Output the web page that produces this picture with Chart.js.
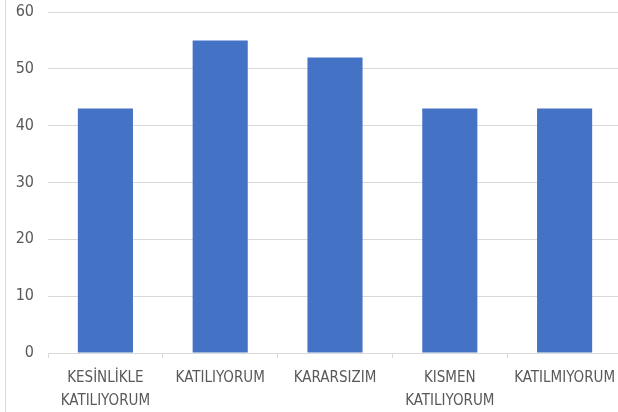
<!DOCTYPE html>
<html>
<head>
<meta charset="utf-8">
<script src="https://cdn.jsdelivr.net/npm/chart.js@4/dist/chart.umd.min.js"></script>
<style>
  html, body { margin: 0; padding: 0; background: #fff; overflow: hidden; }
  #frame { position: absolute; left: 5px; top: 0; width: 1px; height: 412px; background: #d9d9d9; }
  #wrap { position: absolute; left: 0; top: 0; width: 622px; height: 412px; }
</style>
</head>
<body>
<div id="frame"></div>
<div id="wrap"><canvas id="c"></canvas></div>
<script>
// Likert yanıt dağılımı (değerler görselden okunmuştur)
const categories = [
  ['KESİNLİKLE', 'KATILIYORUM'],
  'KATILIYORUM',
  'KARARSIZIM',
  ['KISMEN', 'KATILIYORUM'],
  'KATILMIYORUM',
];
const values = [43, 55, 52, 43, 43];
const yTicks = { min: 0, max: 60, step: 10 };

const BAR_COLOR = '#4472C4';
const GRID_COLOR = '#d9d9d9';
const TEXT_COLOR = '#595959';
const NARROW = '"DejaVu Sans Condensed", "Liberation Sans Narrow", sans-serif';

new Chart(document.getElementById('c'), {
  type: 'bar',
  data: {
    labels: categories,
    datasets: [{
      data: values,
      backgroundColor: BAR_COLOR,
      borderWidth: 0,
      barPercentage: 0.48,
      categoryPercentage: 1,
    }],
  },
  options: {
    responsive: true, maintainAspectRatio: false, animation: false,
    layout: { padding: { top: 12, right: 0, bottom: 0, left: 0 } },
    plugins: { legend: { display: false }, tooltip: { enabled: false } },
    scales: {
      x: {
        offset: true,
        grid: { offset: true, drawOnChartArea: false, drawTicks: true, tickLength: 5, color: GRID_COLOR },
        border: { color: GRID_COLOR },
        ticks: {
          color: TEXT_COLOR, maxRotation: 0, autoSkip: false, padding: 8,
          font: { family: NARROW, size: 15, lineHeight: 1.55 },
        },
        // sabit eksen yüksekliği, etiket taşmasından gelen yan boşlukları yok say
        afterFit: (s) => { s.height = 59; s.paddingLeft = 0; s.paddingRight = 0; },
      },
      y: {
        min: yTicks.min, max: yTicks.max,
        grid: { color: GRID_COLOR, drawTicks: false },
        border: { display: false },
        ticks: {
          stepSize: yTicks.step, color: TEXT_COLOR, padding: 14,
          font: { family: NARROW, size: 16 },
        },
        afterFit: (s) => { s.width = 48; s.paddingTop = 0; s.paddingBottom = 0; },
      },
    },
  },
});
</script>
</body>
</html>
